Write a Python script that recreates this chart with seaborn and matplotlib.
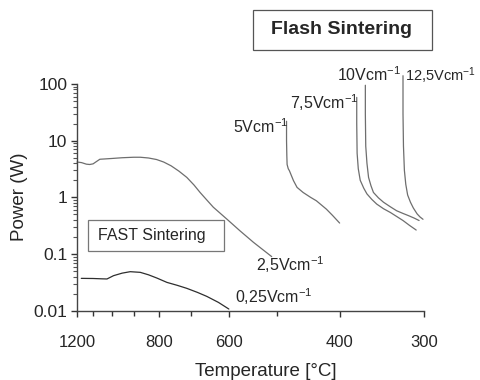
import numpy as np
import pandas as pd
import matplotlib
matplotlib.use('Agg')
import matplotlib.pyplot as plt
import matplotlib.patches as patches
from matplotlib.ticker import LogLocator, NullFormatter
import seaborn as sns

# Data: temperature (deg C) and power (W)
t_025 = [1172, 1100, 1050, 1024, 991, 950, 914, 872, 840, 809, 774, 740, 711, 680, 655, 625, 600]
p_025 = [0.0372, 0.037, 0.0365, 0.0363, 0.0415, 0.046, 0.0488, 0.0475, 0.043, 0.0377, 0.0316,
         0.028, 0.0248, 0.021, 0.0179, 0.014, 0.0107]

t_25 = [1200, 1170, 1140, 1120, 1100, 1080, 1062, 1040, 1000, 950, 900, 872, 840, 810, 785,
        760, 735, 711, 690, 673, 655, 638, 605, 575, 546, 510]
p_25 = [4.2, 4.1, 3.85, 3.8, 3.9, 4.3, 4.7, 4.75, 4.85, 5.0, 5.1, 5.1, 4.95, 4.65, 4.2,
        3.6, 2.9, 2.25, 1.65, 1.22, 0.9, 0.67, 0.415, 0.258, 0.161, 0.09]

t_5 = [483, 483, 482.5, 482, 480, 478, 471, 465, 455, 443, 434, 419, 410, 400]
p_5 = [22, 10, 5.5, 3.8, 3.2, 2.95, 1.97, 1.5, 1.22, 1.0, 0.87, 0.62, 0.48, 0.352]

t_75 = [377, 377, 376.5, 375, 372.5, 368, 364, 358, 352, 344, 336, 329, 322, 315, 308]
p_75 = [58, 20, 6, 3.2, 2.0, 1.45, 1.15, 0.92, 0.76, 0.63, 0.54, 0.46, 0.39, 0.32, 0.265]

t_10 = [366, 366, 365.5, 364, 362, 359, 356, 350, 344, 336, 329, 322, 316, 310, 305]
p_10 = [95, 30, 8, 4, 2.25, 1.6, 1.22, 0.98, 0.82, 0.68, 0.58, 0.52, 0.475, 0.43, 0.39]

t_125 = [322, 322, 321.5, 320.5, 319, 317, 314, 311, 307, 304, 301]
p_125 = [140, 30, 8, 3, 1.7, 1.1, 0.82, 0.65, 0.51, 0.45, 0.41]

fields = ['0,25', '2,5', '5', '7,5', '10', '12,5']
temps = [t_025, t_25, t_5, t_75, t_10, t_125]
powers = [p_025, p_25, p_5, p_75, p_10, p_125]

major_t = [1200, 800, 600, 400, 300]
minor_t = [1100, 1000, 900, 700, 500]
y_ticks = [0.01, 0.1, 1, 10, 100]
y_labels = ['0.01', '0.1', '1', '10', '100']


def inv_k(t):
    # x axis is linear in 1000/T (K), labelled in deg C
    return 1000.0 / (np.asarray(t, dtype=float) + 273.15)


rows = []
for f, t, p in zip(fields, temps, powers):
    for i, (ti, pi) in enumerate(zip(t, p)):
        rows.append({'field': f, 'order': i, 'x': float(inv_k(ti)), 'P': pi})
df = pd.DataFrame(rows)

sns.set_style('ticks')
plt.rcParams['font.family'] = ['Liberation Sans', 'DejaVu Sans']
plt.rcParams['mathtext.default'] = 'regular'

fig = plt.figure(figsize=(4.8, 3.8), dpi=100)
W, H = 480, 380
ax = fig.add_axes([77 / W, 1 - 310.7 / H, 347 / W, (310.7 - 84) / H])

palette = {'0,25': '#2e2e2e', '2,5': '#6e6e6e', '5': '#6e6e6e',
           '7,5': '#6e6e6e', '10': '#6e6e6e', '12,5': '#6e6e6e'}
sns.lineplot(data=df, x='x', y='P', hue='field', palette=palette, sort=False,
             estimator=None, legend=False, linewidth=0.9, clip_on=False, ax=ax)

ax.set_yscale('log')
ax.set_ylim(0.01, 100)
ax.set_xlim(inv_k(1200), inv_k(300))
ax.set_xticks(inv_k(major_t))
ax.set_xticklabels([str(t) for t in major_t])
ax.set_xticks(inv_k(minor_t), minor=True)
ax.set_yticks(y_ticks)
ax.set_yticklabels(y_labels)
ax.yaxis.set_minor_locator(LogLocator(base=10, subs=np.arange(2, 10), numticks=20))
ax.yaxis.set_minor_formatter(NullFormatter())
ax.set_xlabel('')
ax.set_ylabel('')

for s in ['top', 'right']:
    ax.spines[s].set_visible(False)
for s in ['left', 'bottom']:
    ax.spines[s].set_color('#444444')
    ax.spines[s].set_linewidth(1.0)

ax.tick_params(axis='x', which='major', bottom=True, length=4.5, width=1.0, color='#333333',
               labelsize=12, pad=13, direction='out')
ax.tick_params(axis='x', which='minor', bottom=True, length=3.5, width=1.0, color='#333333',
               direction='out')
ax.tick_params(axis='y', which='major', left=True, length=4.5, width=1.0, color='#333333',
               labelsize=12.5, pad=2.5, direction='out')
ax.tick_params(axis='y', which='minor', left=True, length=3, width=0.8, color='#555555',
               direction='out')

fig.text(20 / W, 1 - 197 / H, 'Power (W)', rotation=90, ha='center', va='center', fontsize=13.5)
fig.text(265.5 / W, 1 - 371 / H, 'Temperature [°C]', ha='center', va='center', fontsize=13.5)

# curve labels
label_pos = {'0,25': (235, 303.3), '2,5': (256, 271), '5': (233, 133.3),
             '7,5': (290, 109.3), '10': (336.7, 80.7), '12,5': (405, 80.7)}
for f in fields:
    lx, ly = label_pos[f]
    size = 10.5 if f == '12,5' else 11.5
    fig.text(lx / W, 1 - ly / H, f + 'Vcm$^{-1}$', ha='left', va='baseline', fontsize=size)

# boxed titles
fig.patches.append(patches.Rectangle((253 / W, 1 - 50 / H), 179 / W, 40 / H, transform=fig.transFigure,
                                     fill=True, facecolor='white', edgecolor='#555555', linewidth=0.9))
fig.text(341.7 / W, 1 - 30 / H, 'Flash Sintering', ha='center', va='center',
         fontsize=14, fontweight='bold')
fig.patches.append(patches.Rectangle((88 / W, 1 - 251 / H), 136 / W, 31 / H, transform=fig.transFigure,
                                     fill=True, facecolor='white', edgecolor='#777777', linewidth=0.9))
fig.text(151.7 / W, 1 - 235.5 / H, 'FAST Sintering', ha='center', va='center', fontsize=11.5)

fig.savefig('out.png', dpi=100)
